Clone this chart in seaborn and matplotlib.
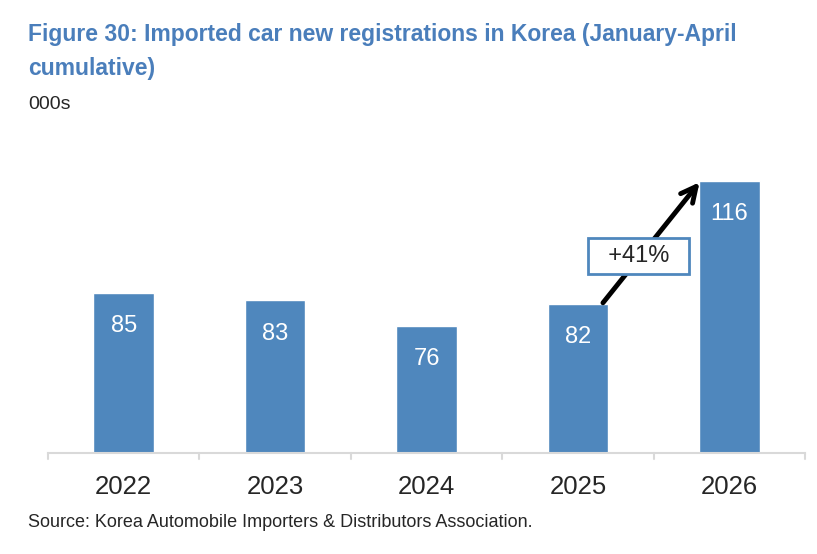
import pandas as pd
import numpy as np
import matplotlib.pyplot as plt
import seaborn as sns

# data (000s, Jan-Apr cumulative)
years = ['2022', '2023', '2024', '2025', '2026']
registrations = [85, 83, 76, 82, 116]
growth_label = '+41%'

df = pd.DataFrame({'year': years, 'registrations': registrations})

sns.set_style('white')
plt.rcParams['font.family'] = ['Liberation Sans Narrow', 'Liberation Sans', 'DejaVu Sans']

bar_color = '#4F87BD'
title_color = '#4A7EBB'

fig = plt.figure(figsize=(8.17, 5.54), dpi=100)
ax = fig.add_axes([0.0588, 0.1823, 0.9265, 0.5493])

sns.barplot(data=df, x='year', y='registrations', color=bar_color,
            width=0.4, saturation=1, ax=ax)
ax.set_ylim(40.7, 125)
ax.set_xlim(-0.5, len(years) - 0.5)

# value labels inside the top of each bar
for i, v in enumerate(registrations):
    ax.text(i, v - 9.2, str(v), ha='center', va='center',
            color='white', fontsize=17)

# growth arrow from 2025 to 2026
ax.annotate('', xy=(3.815, 116.3), xytext=(3.154, 81.7),
            arrowprops=dict(arrowstyle='->, head_width=0.55, head_length=1.1',
                            color='black', lw=3.5))
ax.text(3.4, 95.2, f'  {growth_label}  ', ha='center', va='center', fontsize=17,
        bbox=dict(boxstyle='square,pad=0.3', facecolor='white',
                  edgecolor=bar_color, linewidth=2))

# axes styling
for side in ['top', 'right', 'left']:
    ax.spines[side].set_visible(False)
ax.spines['bottom'].set_color('#D9D9D9')
ax.spines['bottom'].set_linewidth(1.5)
ax.set_yticks([])
ax.set_xlabel('')
ax.set_ylabel('')
ax.tick_params(axis='x', length=0, labelsize=18.5, pad=16)
# category boundary ticks along the baseline
for b in np.arange(-0.5, len(years), 1.0):
    ax.plot([b, b], [40.7, 40.7 - 1.6], color='#D9D9D9', lw=1.5,
            clip_on=False)

fig.text(0.034, 0.907, 'Figure 30: Imported car new registrations in Korea (January-April\ncumulative)',
         color=title_color, fontsize=16.5, fontweight='bold', va='center',
         linespacing=1.62)
fig.text(0.034, 0.812, '000s', fontsize=14, va='center')
fig.text(0.034, 0.056, 'Source: Korea Automobile Importers & Distributors Association.',
         fontsize=13, va='center')

fig.savefig('out.png', dpi=100)
